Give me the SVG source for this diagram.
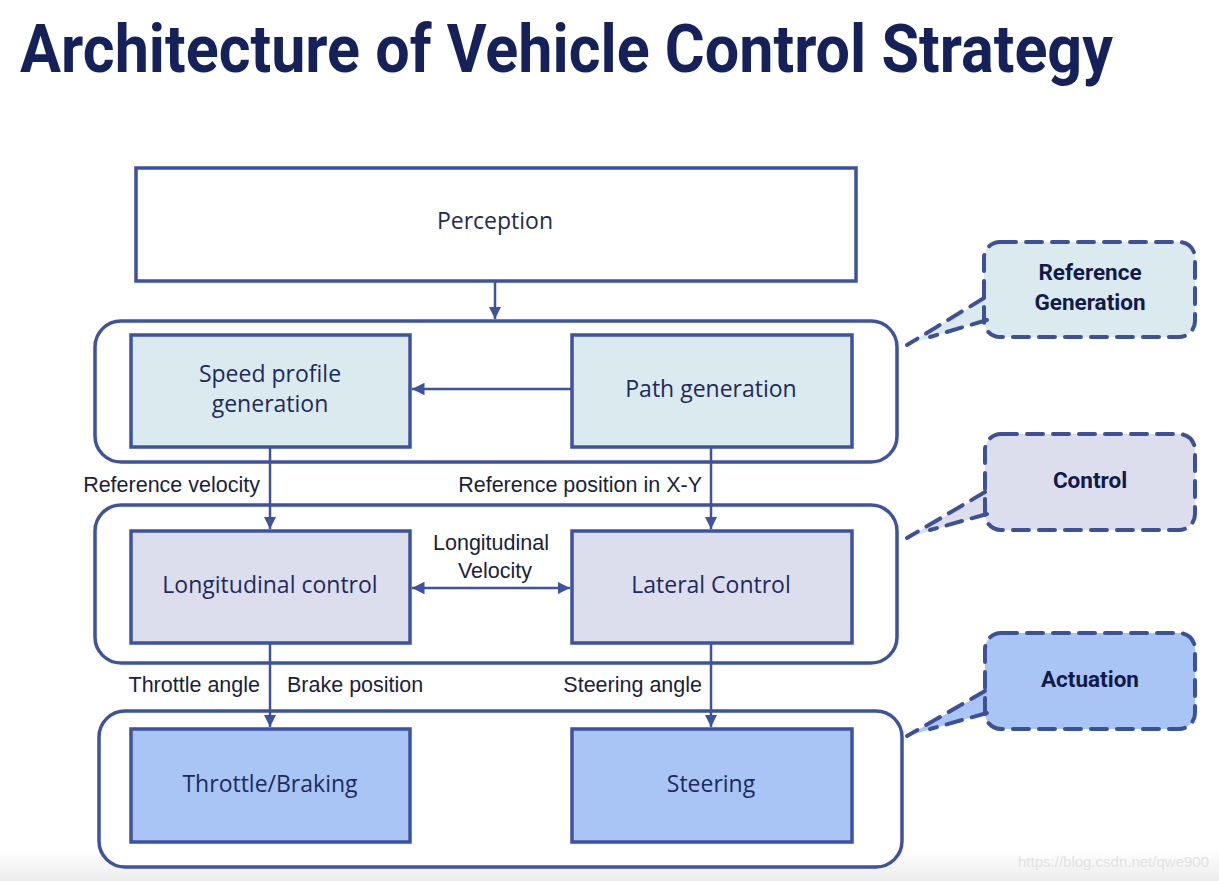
<svg xmlns="http://www.w3.org/2000/svg" width="1219" height="881" viewBox="0 0 1219 881">
<defs>
<linearGradient id="bg" x1="0" y1="0" x2="0" y2="1">
<stop offset="0" stop-color="#ffffff"/>
<stop offset="1" stop-color="#ececec"/>
</linearGradient>
<marker id="ah" viewBox="0 0 10 10" refX="10" refY="5" markerWidth="5" markerHeight="5" orient="auto-start-reverse" markerUnits="strokeWidth">
<path d="M0,0 L10,5 L0,10 z" fill="#3d52a1"/>
</marker>
<style>
.box{stroke:#3d52a1;stroke-width:3.5}
.grp{fill:#ffffff;stroke:#3d52a1;stroke-width:3.5}
.con{stroke:#3d52a1;stroke-width:2.5;fill:none}
.call{stroke:#3d5199;stroke-width:4;stroke-dasharray:16 10;stroke-linecap:round}
.t{font-family:"Open Sans","Liberation Sans",sans-serif;font-size:23px;fill:#1f2a5c;text-anchor:middle}
.lbl{font-family:"Liberation Sans",Arial,sans-serif;font-size:21.5px;fill:#1a1f3c}
.ct{font-family:"Roboto","Liberation Sans",sans-serif;font-weight:bold;font-size:22.5px;fill:#111a4a;text-anchor:middle}
.rg{fill:#dbeaef}.cl{fill:#dcdeee}.ac{fill:#a9c5f5}
</style>
</defs>
<rect x="0" y="0" width="1219" height="881" fill="#ffffff"/>
<rect x="0" y="850" width="1219" height="31" fill="url(#bg)"/>
<text x="20" y="72" textLength="1093" lengthAdjust="spacingAndGlyphs" font-family="Roboto,'Liberation Sans',sans-serif" font-weight="bold" font-size="66" fill="#14215a">Architecture of Vehicle Control Strategy</text>

<g id="perception">
<rect class="box" x="136" y="168" width="720" height="113" fill="#ffffff"/>
<text class="t" x="495" y="229">Perception</text>
</g>

<g id="group-reference"><rect class="grp" x="95" y="321" width="802" height="141" rx="26"/></g>
<g id="group-control"><rect class="grp" x="95" y="505" width="802" height="158" rx="26"/></g>
<g id="group-actuation"><rect class="grp" x="99" y="711" width="803" height="156" rx="26"/></g>

<g id="speed-profile">
<rect class="box rg" x="131" y="335" width="279" height="112"/>
<text class="t" x="270" y="382">Speed profile</text>
<text class="t" x="270" y="412">generation</text>
</g>
<g id="path-generation">
<rect class="box rg" x="572" y="335" width="280" height="112"/>
<text class="t" x="711" y="397">Path generation</text>
</g>
<g id="longitudinal-control">
<rect class="box cl" x="131" y="531" width="279" height="112"/>
<text class="t" x="270" y="593">Longitudinal control</text>
</g>
<g id="lateral-control">
<rect class="box cl" x="572" y="531" width="280" height="112"/>
<text class="t" x="711" y="593">Lateral Control</text>
</g>
<g id="throttle-braking">
<rect class="box ac" x="131" y="729" width="279" height="113"/>
<text class="t" x="270" y="792">Throttle/Braking</text>
</g>
<g id="steering">
<rect class="box ac" x="572" y="729" width="280" height="113"/>
<text class="t" x="711" y="792">Steering</text>
</g>

<g id="connectors">
<line class="con" x1="495" y1="281" x2="495" y2="319" marker-end="url(#ah)"/>
<line class="con" x1="572" y1="389" x2="412" y2="389" marker-end="url(#ah)"/>
<line class="con" x1="270" y1="447" x2="270" y2="529" marker-end="url(#ah)"/>
<line class="con" x1="711" y1="447" x2="711" y2="529" marker-end="url(#ah)"/>
<line class="con" x1="412" y1="588" x2="570" y2="588" marker-start="url(#ah)" marker-end="url(#ah)"/>
<line class="con" x1="270" y1="643" x2="270" y2="727" marker-end="url(#ah)"/>
<line class="con" x1="711" y1="643" x2="711" y2="727" marker-end="url(#ah)"/>
<text class="lbl" x="260" y="492" text-anchor="end">Reference velocity</text>
<text class="lbl" x="702" y="492" text-anchor="end">Reference position in X-Y</text>
<text class="lbl" x="491" y="550" text-anchor="middle">Longitudinal</text>
<text class="lbl" x="495" y="578" text-anchor="middle">Velocity</text>
<text class="lbl" x="260" y="692" text-anchor="end">Throttle angle</text>
<text class="lbl" x="287" y="692">Brake position</text>
<text class="lbl" x="702" y="692" text-anchor="end">Steering angle</text>
</g>

<g id="callout-reference">
<path class="rg" d="M986,298 L907,345 L986,320 z"/>
<rect class="call rg" x="984" y="242" width="211" height="95" rx="16"/>
<path class="call" d="M984,298 L907,345 M987,320 L930,337" fill="none"/>
<text class="ct" x="1090" y="280">Reference</text>
<text class="ct" x="1090" y="310">Generation</text>
</g>
<g id="callout-control">
<path class="cl" d="M987,492 L907,538 L987,514 z"/>
<rect class="call cl" x="985" y="434" width="210" height="96" rx="16"/>
<path class="call" d="M985,492 L907,538 M987,514 L930,530" fill="none"/>
<text class="ct" x="1090" y="488">Control</text>
</g>
<g id="callout-actuation">
<path class="ac" d="M987,691 L907,736 L987,713 z"/>
<rect class="call ac" x="985" y="633" width="210" height="96" rx="16"/>
<path class="call" d="M985,691 L907,736 M987,713 L930,729" fill="none"/>
<text class="ct" x="1090" y="687">Actuation</text>
</g>

<text x="1209" y="867" text-anchor="end" font-family="'Liberation Sans',Arial,sans-serif" font-size="15" fill="#e2e2e2">https://blog.csdn.net/qwe900</text>
</svg>
